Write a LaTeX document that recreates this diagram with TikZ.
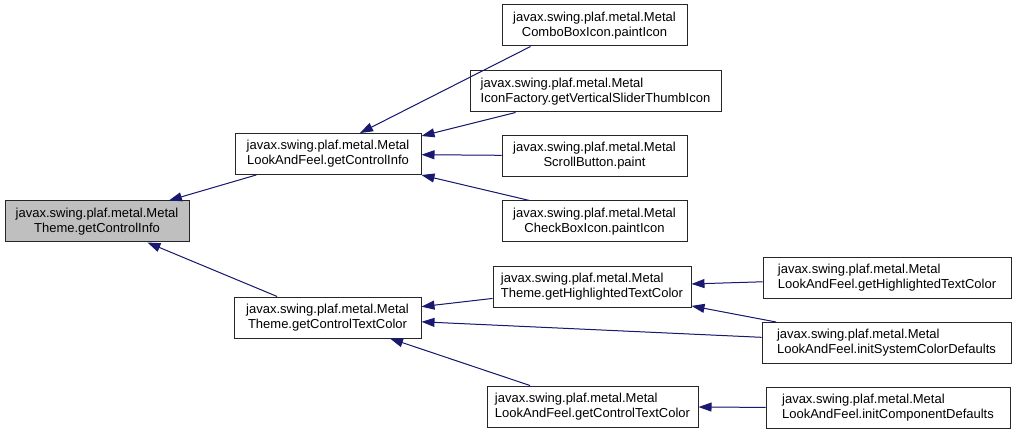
\documentclass[tikz,border=0pt]{standalone}
\usepackage{fontspec}
\setmainfont{Liberation Sans}
\usetikzlibrary{arrows.meta}
\definecolor{edgeblue}{HTML}{191970}
\definecolor{rootgray}{HTML}{BFBFBF}
\begin{document}
\begin{tikzpicture}[
			x=1pt, y=-1pt,
			every node/.style={font=\fontsize{13}{15}\selectfont, inner sep=0pt},
			box/.style={rectangle, draw=black!85, line width=1pt, fill=white, minimum height=41pt, align=center},
			lbox/.style={box, align=left},
			call/.style={<-, >={Triangle[length=13pt, width=9pt]}, draw=edgeblue, fill=edgeblue, line width=1pt}
		]
			\useasboundingbox (0,0) rectangle (1016,435);

			\node[box, fill=rootgray, minimum width=184pt] (root) at (97,221.5) {javax.swing.plaf.metal.Metal\\Theme.getControlInfo};
			\node[box, minimum width=186pt] (lafinfo) at (328,154) {javax.swing.plaf.metal.Metal\\LookAndFeel.getControlInfo};
			\node[box, minimum width=187pt] (textcol) at (327.5,317.5) {javax.swing.plaf.metal.Metal\\Theme.getControlTextColor};

			\node[box, minimum width=185pt] (combo) at (594.5,25.5) {javax.swing.plaf.metal.Metal\\ComboBoxIcon.paintIcon};
			\node[lbox, minimum width=251pt] (slider) at (595.5,91.5) {javax.swing.plaf.metal.Metal\\IconFactory.getVerticalSliderThumbIcon};
			\node[box, minimum width=185pt] (scroll) at (594.5,156) {javax.swing.plaf.metal.Metal\\ScrollButton.paint};
			\node[box, minimum width=185pt] (check) at (594.5,221.5) {javax.swing.plaf.metal.Metal\\CheckBoxIcon.paintIcon};

			\node[lbox, minimum width=198pt] (hilite) at (592,287) {javax.swing.plaf.metal.Metal\\Theme.getHighlightedTextColor};
			\node[lbox, minimum width=211pt] (laftext) at (592.5,406.5) {javax.swing.plaf.metal.Metal\\LookAndFeel.getControlTextColor};

			\node[lbox, minimum width=248pt] (lafhilite) at (887,278) {javax.swing.plaf.metal.Metal\\LookAndFeel.getHighlightedTextColor};
			\node[lbox, minimum width=249pt] (sysdef) at (886.5,343) {javax.swing.plaf.metal.Metal\\LookAndFeel.initSystemColorDefaults};
			\node[lbox, minimum width=244pt] (compdef) at (888,408) {javax.swing.plaf.metal.Metal\\LookAndFeel.initComponentDefaults};

			\draw[call] (root) -- (lafinfo);
			\draw[call] (root) -- (textcol);
			\draw[call] ([xshift=32pt]lafinfo.north) -- ([xshift=-64pt]combo.south);
			\draw[call] ([yshift=-3pt]lafinfo.north east) -- ([xshift=-80pt]slider.south);
			\draw[call] (lafinfo) -- (scroll);
			\draw[call] (lafinfo.south east) -- ([xshift=28pt]check.north west);
			\draw[call] (textcol) -- (hilite);
			\draw[call] (textcol) -- (sysdef);
			\draw[call] (textcol) -- (laftext);
			\draw[call] (hilite) -- (lafhilite);
			\draw[call] (hilite) -- (sysdef);
			\draw[call] (laftext) -- (compdef);
		\end{tikzpicture}
\end{document}
